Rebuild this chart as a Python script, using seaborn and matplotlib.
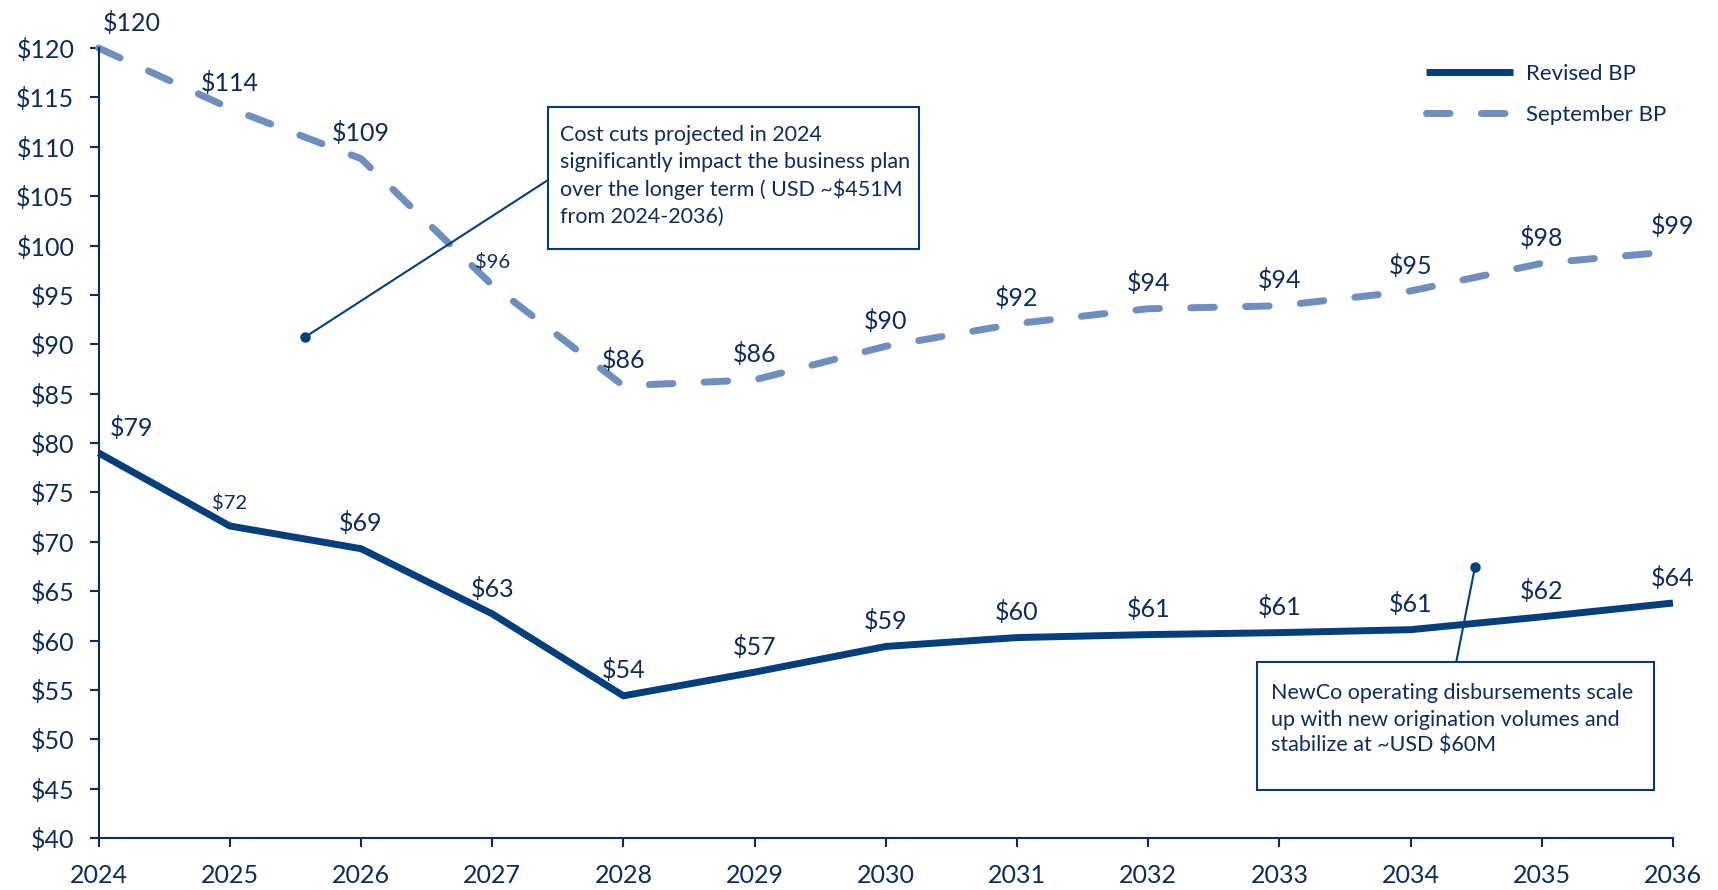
import matplotlib.pyplot as plt
import pandas as pd
import seaborn as sns
from matplotlib.patches import Rectangle

years = list(range(2024, 2037))
revised_bp = [79.0, 71.6, 69.3, 62.7, 54.4, 56.8, 59.4, 60.3, 60.6, 60.8, 61.1, 62.4, 63.8]
september_bp = [120.0, 113.9, 108.8, 96.0, 85.8, 86.4, 89.8, 92.1, 93.6, 93.9, 95.4, 98.2, 99.4]
y_ticks = list(range(40, 121, 5))

callout_cuts = (
    "Cost cuts projected in 2024\n"
    "significantly impact the business plan\n"
    "over the longer term ( USD ~$451M\n"
    "from 2024-2036)"
)
callout_newco = (
    "NewCo operating disbursements scale\n"
    "up with new origination volumes and\n"
    "stabilize at ~USD $60M"
)
cuts_anchor = (2025.57, 90.7)
newco_anchor = (2034.49, 67.4)

# labels drawn in a smaller size in the original
small_labels = {("Revised BP", 2025), ("September BP", 2027)}

NAVY = "#033E7D"
STEEL = "#6D8EBF"
TEXT = "#0D2B5E"

sns.set_style("ticks")
plt.rcParams["font.family"] = ["Lato", "DejaVu Sans"]
plt.rcParams["text.color"] = TEXT

fig = plt.figure(figsize=(17.18, 8.90), dpi=100)
ax = fig.add_axes([0.0574, 0.0584, 0.9164, 0.8876])

series = {"Revised BP": revised_bp, "September BP": september_bp}
styles = {
    "Revised BP": dict(color=NAVY, linestyle="-"),
    "September BP": dict(color=STEEL, linestyle=(0, (3.4, 4.5))),
}

for name, values in series.items():
    df = pd.DataFrame({"year": years, "value": values})
    sns.lineplot(data=df, x="year", y="value", ax=ax, label=name,
                 linewidth=5, **styles[name])
    line = ax.get_lines()[-1]
    line.set_clip_on(False)
    line.set_solid_capstyle("butt")
    line.set_dash_capstyle("round")
    line.set_solid_joinstyle("miter")

    for i, (yr, v) in enumerate(zip(years, values)):
        small = (name, yr) in small_labels
        dx = 24 if i == 0 else 0
        ax.annotate(f"${v:.0f}", (yr, v), xytext=(dx, 12.5),
                    textcoords="offset points", ha="center", va="baseline",
                    fontsize=14.5 if small else 18, color=TEXT,
                    annotation_clip=False)

ax.set_xlim(years[0], years[-1])
ax.set_ylim(y_ticks[0], y_ticks[-1])
ax.set_xticks(years)
ax.set_xticklabels([str(y) for y in years])
ax.set_yticks(y_ticks)
ax.set_yticklabels([f"${t}" for t in y_ticks])
ax.set_xlabel("")
ax.set_ylabel("")
ax.tick_params(axis="both", colors=TEXT, labelsize=18, length=6.5, width=1.5,
               direction="out")
ax.tick_params(axis="x", pad=12)
ax.tick_params(axis="y", pad=11)
sns.despine(ax=ax)
for side in ["left", "bottom"]:
    ax.spines[side].set_color(TEXT)
    ax.spines[side].set_linewidth(1.5)

leg = ax.legend(loc="upper left", bbox_to_anchor=(0.843, 0.98), frameon=False,
                fontsize=16, handlelength=3.94, handletextpad=0.59,
                labelspacing=0.95, borderpad=0, borderaxespad=0)
for t in leg.get_texts():
    t.set_color(TEXT)

# callout boxes
boxes = [
    (callout_cuts, cuts_anchor, (0.2854, 0.7456, 0.2356, 0.1797), (0.2931, 0.902), (0.2854, 0.8329)),
    (callout_newco, newco_anchor, (0.7358, 0.0608, 0.2524, 0.1620), (0.7447, 0.196), (0.8622, 0.2215)),
]
for text, anchor, rect, text_pos, joint in boxes:
    ax.add_patch(Rectangle(rect[:2], rect[2], rect[3], transform=ax.transAxes,
                           facecolor="white", edgecolor="#0B3A72", lw=1.5,
                           clip_on=False, zorder=4))
    ax.text(*text_pos, text, transform=ax.transAxes, ha="left", va="top",
            fontsize=15.5, linespacing=1.4, color=TEXT, zorder=5)
    ax.annotate("", xy=anchor, xytext=joint, textcoords="axes fraction",
                arrowprops=dict(arrowstyle="-", color=NAVY, lw=1.5,
                                shrinkA=0, shrinkB=0), zorder=3)
    ax.plot(*anchor, "o", color=NAVY, ms=6.5, zorder=3)

fig.savefig("out.png", dpi=100)
